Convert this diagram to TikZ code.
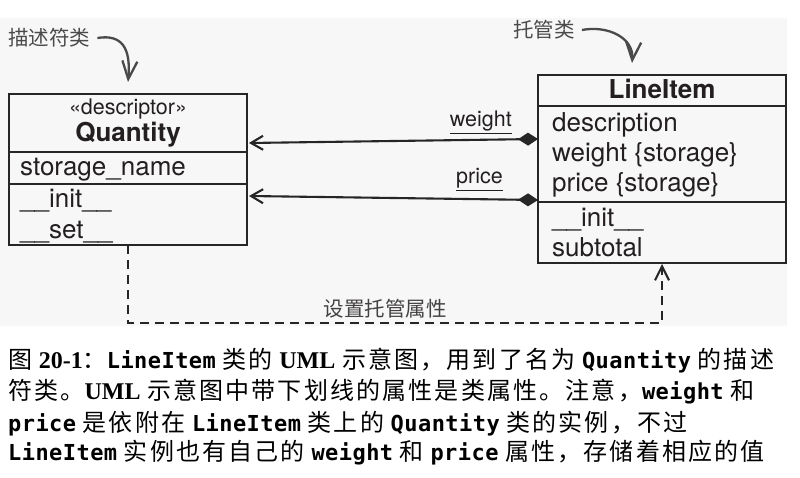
\documentclass[tikz,border=0pt]{standalone}
\usepackage{fontspec}
\setmainfont{TeX Gyre Heros}
\newfontfamily\cjk{Noto Sans CJK SC}
\newfontfamily\cjkcap[LetterSpace=9]{Noto Sans CJK SC}
\newfontfamily\codefont[LetterSpace=2]{DejaVu Sans Mono}
\newfontfamily\serifbf{Liberation Serif}
\usetikzlibrary{arrows.meta}
\definecolor{linec}{HTML}{262626}
\definecolor{textc}{HTML}{231F20}
\definecolor{annc}{HTML}{4A4A4A}
\definecolor{bgc}{HTML}{F7F7F7}
\newcommand{\cw}[1]{{\codefont\bfseries\fontsize{22}{26}\selectfont #1}}
\newcommand{\cz}[1]{{\cjkcap\fontsize{24}{26}\selectfont #1}}
\newcommand{\sbf}[1]{{\serifbf\bfseries\fontsize{24}{26}\selectfont #1}}
\tikzset{
  umlbox/.style={draw=linec, line width=2.1pt, inner sep=0pt},
  umltext/.style={font=\fontsize{26}{30}\selectfont, text=textc, inner sep=0pt},
  umlsmall/.style={font=\fontsize{21.5}{24}\selectfont, text=textc, inner sep=0pt},
  divider/.style={draw=linec, line width=2.1pt},
  assoc/.style={draw=linec, line width=2.1pt, {Diamond[length=20pt,width=13pt]}-{Straight Barb[length=12pt,width=14pt]}},
  depline/.style={draw=linec, line width=2.1pt, dash pattern=on 9pt off 6pt, -{Straight Barb[length=14pt,width=14pt]}},
  anntext/.style={font=\cjk\fontsize{20.5}{24}\selectfont, text=annc, inner sep=0pt},
  annarrow/.style={draw=annc, line width=2.3pt, -{Straight Barb[length=18pt,width=15pt]}},
  captext/.style={font=\fontsize{24}{28}\selectfont, text=black, inner sep=0pt, anchor=base west},
}
\begin{document}
\begin{tikzpicture}[x=1pt,y=-1pt]
\useasboundingbox (0,0) rectangle (800,478);
\fill[bgc] (0,18) rectangle (787,326);

% Quantity box
\node[umlbox, minimum width=238pt, minimum height=151pt] (Q) at (128,169.5) {};
\draw[divider] (Q.west |- 0,152) -- (Q.east |- 0,152);
\draw[divider] (Q.west |- 0,184) -- (Q.east |- 0,184);
\node[umlsmall, anchor=base] (qstereo) at (128,115) {«descriptor»};
\node[umltext, anchor=base] (qname) at (128,142) {\bfseries Quantity};
\node[umltext, anchor=base west] (qattr) at (20,176) {storage\_name};
\node[umltext, anchor=base west] (qinit) at (20,208) {\_\_init\_\_};
\node[umltext, anchor=base west] (qset) at (20,239) {\_\_set\_\_};

% LineItem box
\node[umlbox, minimum width=248pt, minimum height=188pt] (L) at (662,169) {};
\draw[divider] (L.west |- 0,106) -- (L.east |- 0,106);
\draw[divider] (L.west |- 0,202) -- (L.east |- 0,202);
\node[umltext, anchor=base] (lname) at (662,99) {\bfseries LineItem};
\node[umltext, anchor=base west] (ldesc) at (552,132) {description};
\node[umltext, anchor=base west] (lweight) at (552,162) {weight \{storage\}};
\node[umltext, anchor=base west] (lprice) at (552,192) {price \{storage\}};
\node[umltext, anchor=base west] (linit) at (552,227) {\_\_init\_\_};
\node[umltext, anchor=base west] (lsub) at (552,257) {subtotal};

% associations
\coordinate (wR) at (538,139);
\coordinate (wL) at (249,143);
\coordinate (pR) at (538,200);
\coordinate (pL) at (249,196);
\draw[assoc] (wR) -- (wL);
\draw[assoc] (pR) -- (pL);
\node[umlsmall, anchor=base east] (wlab) at (512,127) {\underline{weight}};
\node[umlsmall, anchor=base east] (plab) at (503,184) {\underline{price}};

% dependency
\coordinate (dS) at (128,245);
\coordinate (dC1) at (128,323);
\coordinate (dC2) at (662,323);
\coordinate (dE) at (662,264);
\draw[depline] (dS) -- (dC1) -- (dC2) -- (dE);
\node[anntext, text=textc!85] (dlab) at (385,309) {设置托管属性};

% annotations
\node[anntext, anchor=west] (a1) at (8,38) {描述符类};
\node[anntext, anchor=west] (a2) at (513,30) {托管类};
\coordinate (a1tip) at (128,82);
\coordinate (a2tip) at (632,63);
\draw[annarrow] ([xshift=7pt]a1.east) .. controls (122,34) and (131,48) .. (a1tip);
\draw[annarrow] ([xshift=7pt]a2.east) .. controls (608,25) and (634,38) .. (a2tip);

% caption
\node[captext] (c1) at (8,368) {\cz{图} \sbf{20-1}\cz{：}\cw{LineItem} \cz{类的} \sbf{UML} \cz{示意图，用到了名为} \cw{Quantity} \cz{的描述}};
\node[captext] (c2) at (8,399) {\cz{符类。}\sbf{UML} \cz{示意图中带下划线的属性是类属性。注意，}\cw{weight} \cz{和}};
\node[captext] (c3) at (8,431) {\cw{price} \cz{是依附在} \cw{LineItem} \cz{类上的} \cw{Quantity} \cz{类的实例，不过}};
\node[captext] (c4) at (8,460) {\cw{LineItem} \cz{实例也有自己的} \cw{weight} \cz{和} \cw{price} \cz{属性，存储着相应的值}};
\end{tikzpicture}
\end{document}
